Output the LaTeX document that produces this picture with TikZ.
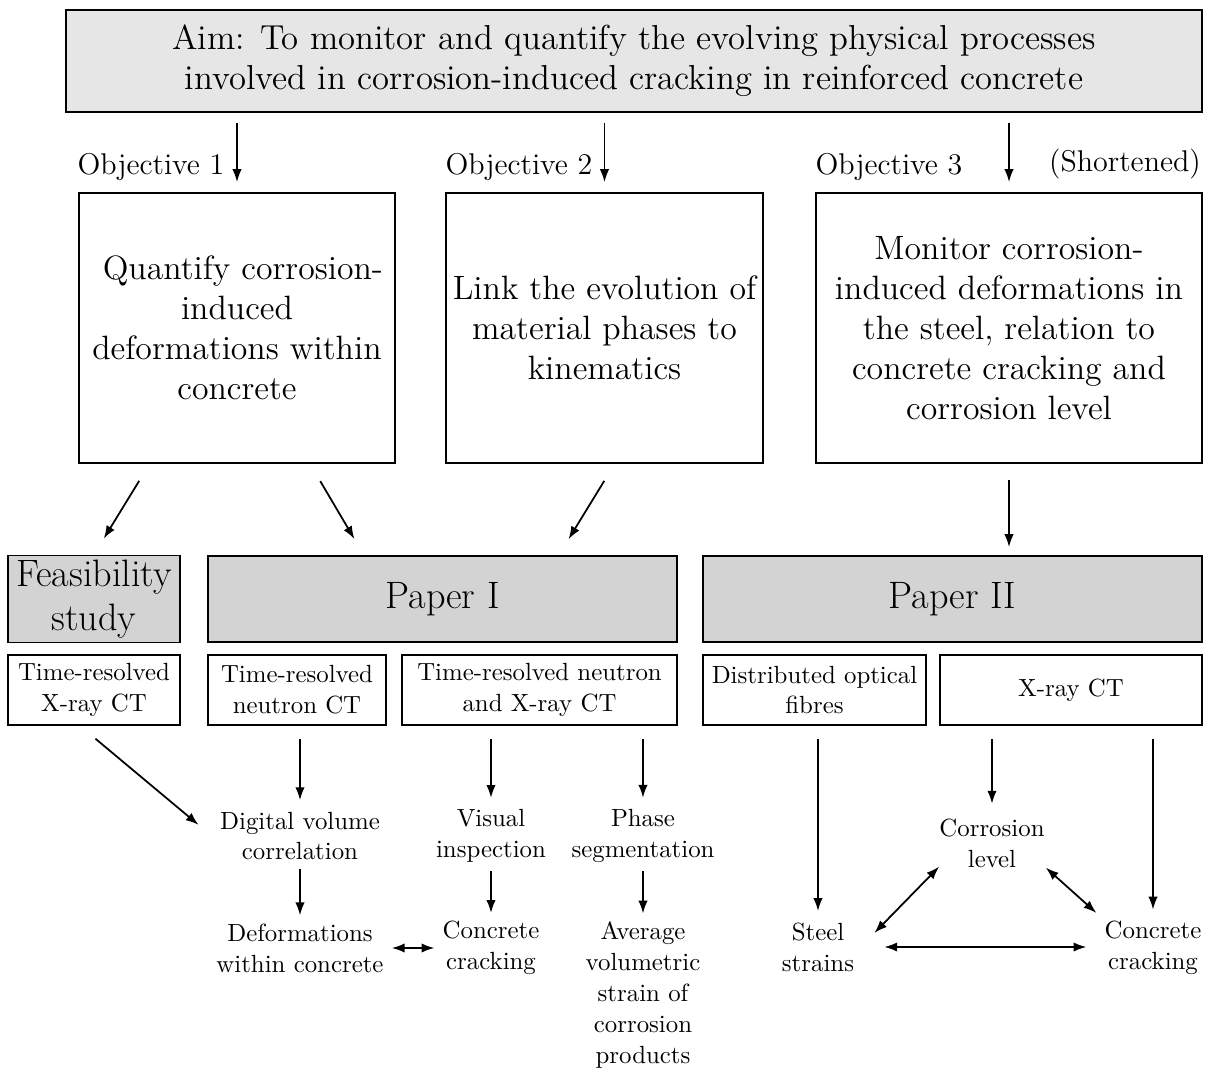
\documentclass[tikz,border=0pt]{standalone}
\usetikzlibrary{arrows.meta,calc}

\definecolor{aimgray}{HTML}{E6E6E6}
\definecolor{papergray}{HTML}{D3D3D3}
\newcommand{\txtaim}{\fontsize{14.8}{17.1}\selectfont}
\newcommand{\txtbig}{\fontsize{14.4}{17.1}\selectfont}
\newcommand{\txtpaper}{\fontsize{16.3}{18.6}\selectfont}
\newcommand{\txtlabel}{\fontsize{12.8}{15}\selectfont}
\newcommand{\txtsmall}{\fontsize{10.6}{13.2}\selectfont}

\begin{document}
\begin{tikzpicture}[x=0.015cm, y=-0.015cm,
    box/.style 2 args = {draw, line width=0.75pt, align=center, inner sep=2pt,
                minimum width=#1*0.015cm, minimum height=#2*0.015cm},
    txt/.style = {align=center, font=\txtsmall},
    arr/.style = {line width=0.75pt, -{Latex[length=5.5pt,width=4pt]}},
    dbl/.style = {line width=0.75pt, {Latex[length=5.5pt,width=4pt]}-{Latex[length=5.5pt,width=4pt]}}
                    ]
        \useasboundingbox (0,0) rectangle (1214,1068);
        % aim
        \node[box={1136}{102}, fill=aimgray, font=\txtaim] at (634,61) (aim)
            {Aim: To monitor and quantify the evolving physical processes\\
             involved in corrosion-induced cracking in reinforced concrete};
        % objectives
        \foreach \x/\n/\t in {151/ol1/Objective 1, 519/ol2/Objective 2, 889/ol3/Objective 3}
            \node[font=\txtlabel] at (\x,167) (\n) {\t};
        \node[font=\txtlabel] at (1125,164) (short) {(Shortened)};
        \node[box={316}{270}, font=\txtbig] at (237,328) (obj1)
            {\hspace{5pt}Quantify corrosion-\\induced\\deformations within\\concrete};
        \node[box={317}{270}, font=\txtbig] at (604.5,328) (obj2)
            {Link the evolution of\\material phases to\\kinematics};
        \node[box={386}{270}, font=\txtbig] at (1009,328) (obj3)
            {Monitor corrosion-\\induced deformations in\\the steel, relation to\\concrete cracking and\\corrosion level};
        % papers
        \foreach \x/\w/\n/\t in {94/172/feas/{Feasibility\\study}, 442.5/469/p1/{Paper I}, 952.5/499/p2/{Paper II}}
            \node[box={\w}{86}, fill=papergray, font=\txtpaper] at (\x,599) (\n) {\t};
        % methods
        \foreach \x/\w/\n/\t in {94/172/m1/{Time-resolved\\X-ray CT}, 297/178/m2/{Time-resolved\\neutron CT},
                                539.5/275/m3/{Time-resolved neutron\\and X-ray CT},
                                814.5/223/m4/{Distributed optical\\fibres}, 1071/262/m5/{X-ray CT}}
            \node[box={\w}{70}, font=\txtsmall] at (\x,690) (\n) {\t};
        % results
        \foreach \x/\y/\n/\t in {300/836/dvc/{Digital volume\\correlation}, 491/836/vis/{Visual\\inspection},
                                643/836/phase/{Phase\\segmentation}, 300/948/def/{Deformations\\within concrete},
                                491/948/cc1/{Concrete\\cracking}, 643/995/avg/{Average\\volumetric\\strain of\\corrosion\\products},
                                992/843/corr/{Corrosion\\level}, 818/947/steel/{Steel\\strains},
                                1153/948/cc2/{Concrete\\cracking}}
            \node[txt] at (\x,\y) (\n) {\t};
        % connectors
        \foreach \o in {obj1, obj2, obj3}
            \draw[arr, shorten <=0.15cm, shorten >=0.15cm] (aim.south -| \o.north) -- (\o.north);
        \draw[arr, shorten <=0.3cm, shorten >=0.28cm] ($(obj1.south west)!0.225!(obj1.south east)$) -- (feas.north);
        \draw[arr, shorten <=0.3cm, shorten >=0.28cm] ($(obj1.south west)!0.73!(obj1.south east)$)
            -- ($(p1.north west)!0.333!(p1.north east)$);
        \draw[arr, shorten <=0.3cm, shorten >=0.28cm] ($(obj2.south west)!0.532!(obj2.south east)$)
            -- ($(p1.north west)!0.747!(p1.north east)$);
        \draw[arr, shorten <=0.24cm, shorten >=0.12cm] (obj3.south) -- (obj3.south |- p2.north);
        \draw[arr, shorten <=0.3cm, shorten >=0.26cm] ($(m1.south west)!0.42!(m1.south east)$) -- (dvc.west);
        \draw[arr, shorten <=0.2cm, shorten >=0.05cm] (dvc.north |- m2.south) -- (dvc.north);
        \draw[arr, shorten <=0.2cm, shorten >=0.05cm] (vis.north |- m3.south) -- (vis.north);
        \draw[arr, shorten <=0.2cm, shorten >=0.05cm] (phase.north |- m3.south) -- (phase.north);
        \draw[arr, shorten <=0.2cm, shorten >=0.05cm] (steel.north |- m4.south) -- (steel.north);
        \draw[arr, shorten <=0.2cm, shorten >=0.1cm] (corr.north |- m5.south) -- (corr.north);
        \draw[arr, shorten <=0.2cm, shorten >=0.05cm] (cc2.north |- m5.south) -- (cc2.north);
        \draw[arr] (dvc) -- (def);
        \draw[arr] (vis) -- (cc1);
        \draw[arr] (phase) -- (avg);
        \draw[dbl] (def.east) -- (cc1.west);
        \draw[dbl] ($(corr.south west)+(8,-9)$) -- ($(steel.east)+(12,-14)$);
        \draw[dbl] ($(corr.south east)+(-7,-8)$) -- (cc2.north west);
        \draw[dbl, shorten <=0.33cm, shorten >=0.15cm] (steel.east) -- (steel.east -| cc2.west);
    \end{tikzpicture}
\end{document}
